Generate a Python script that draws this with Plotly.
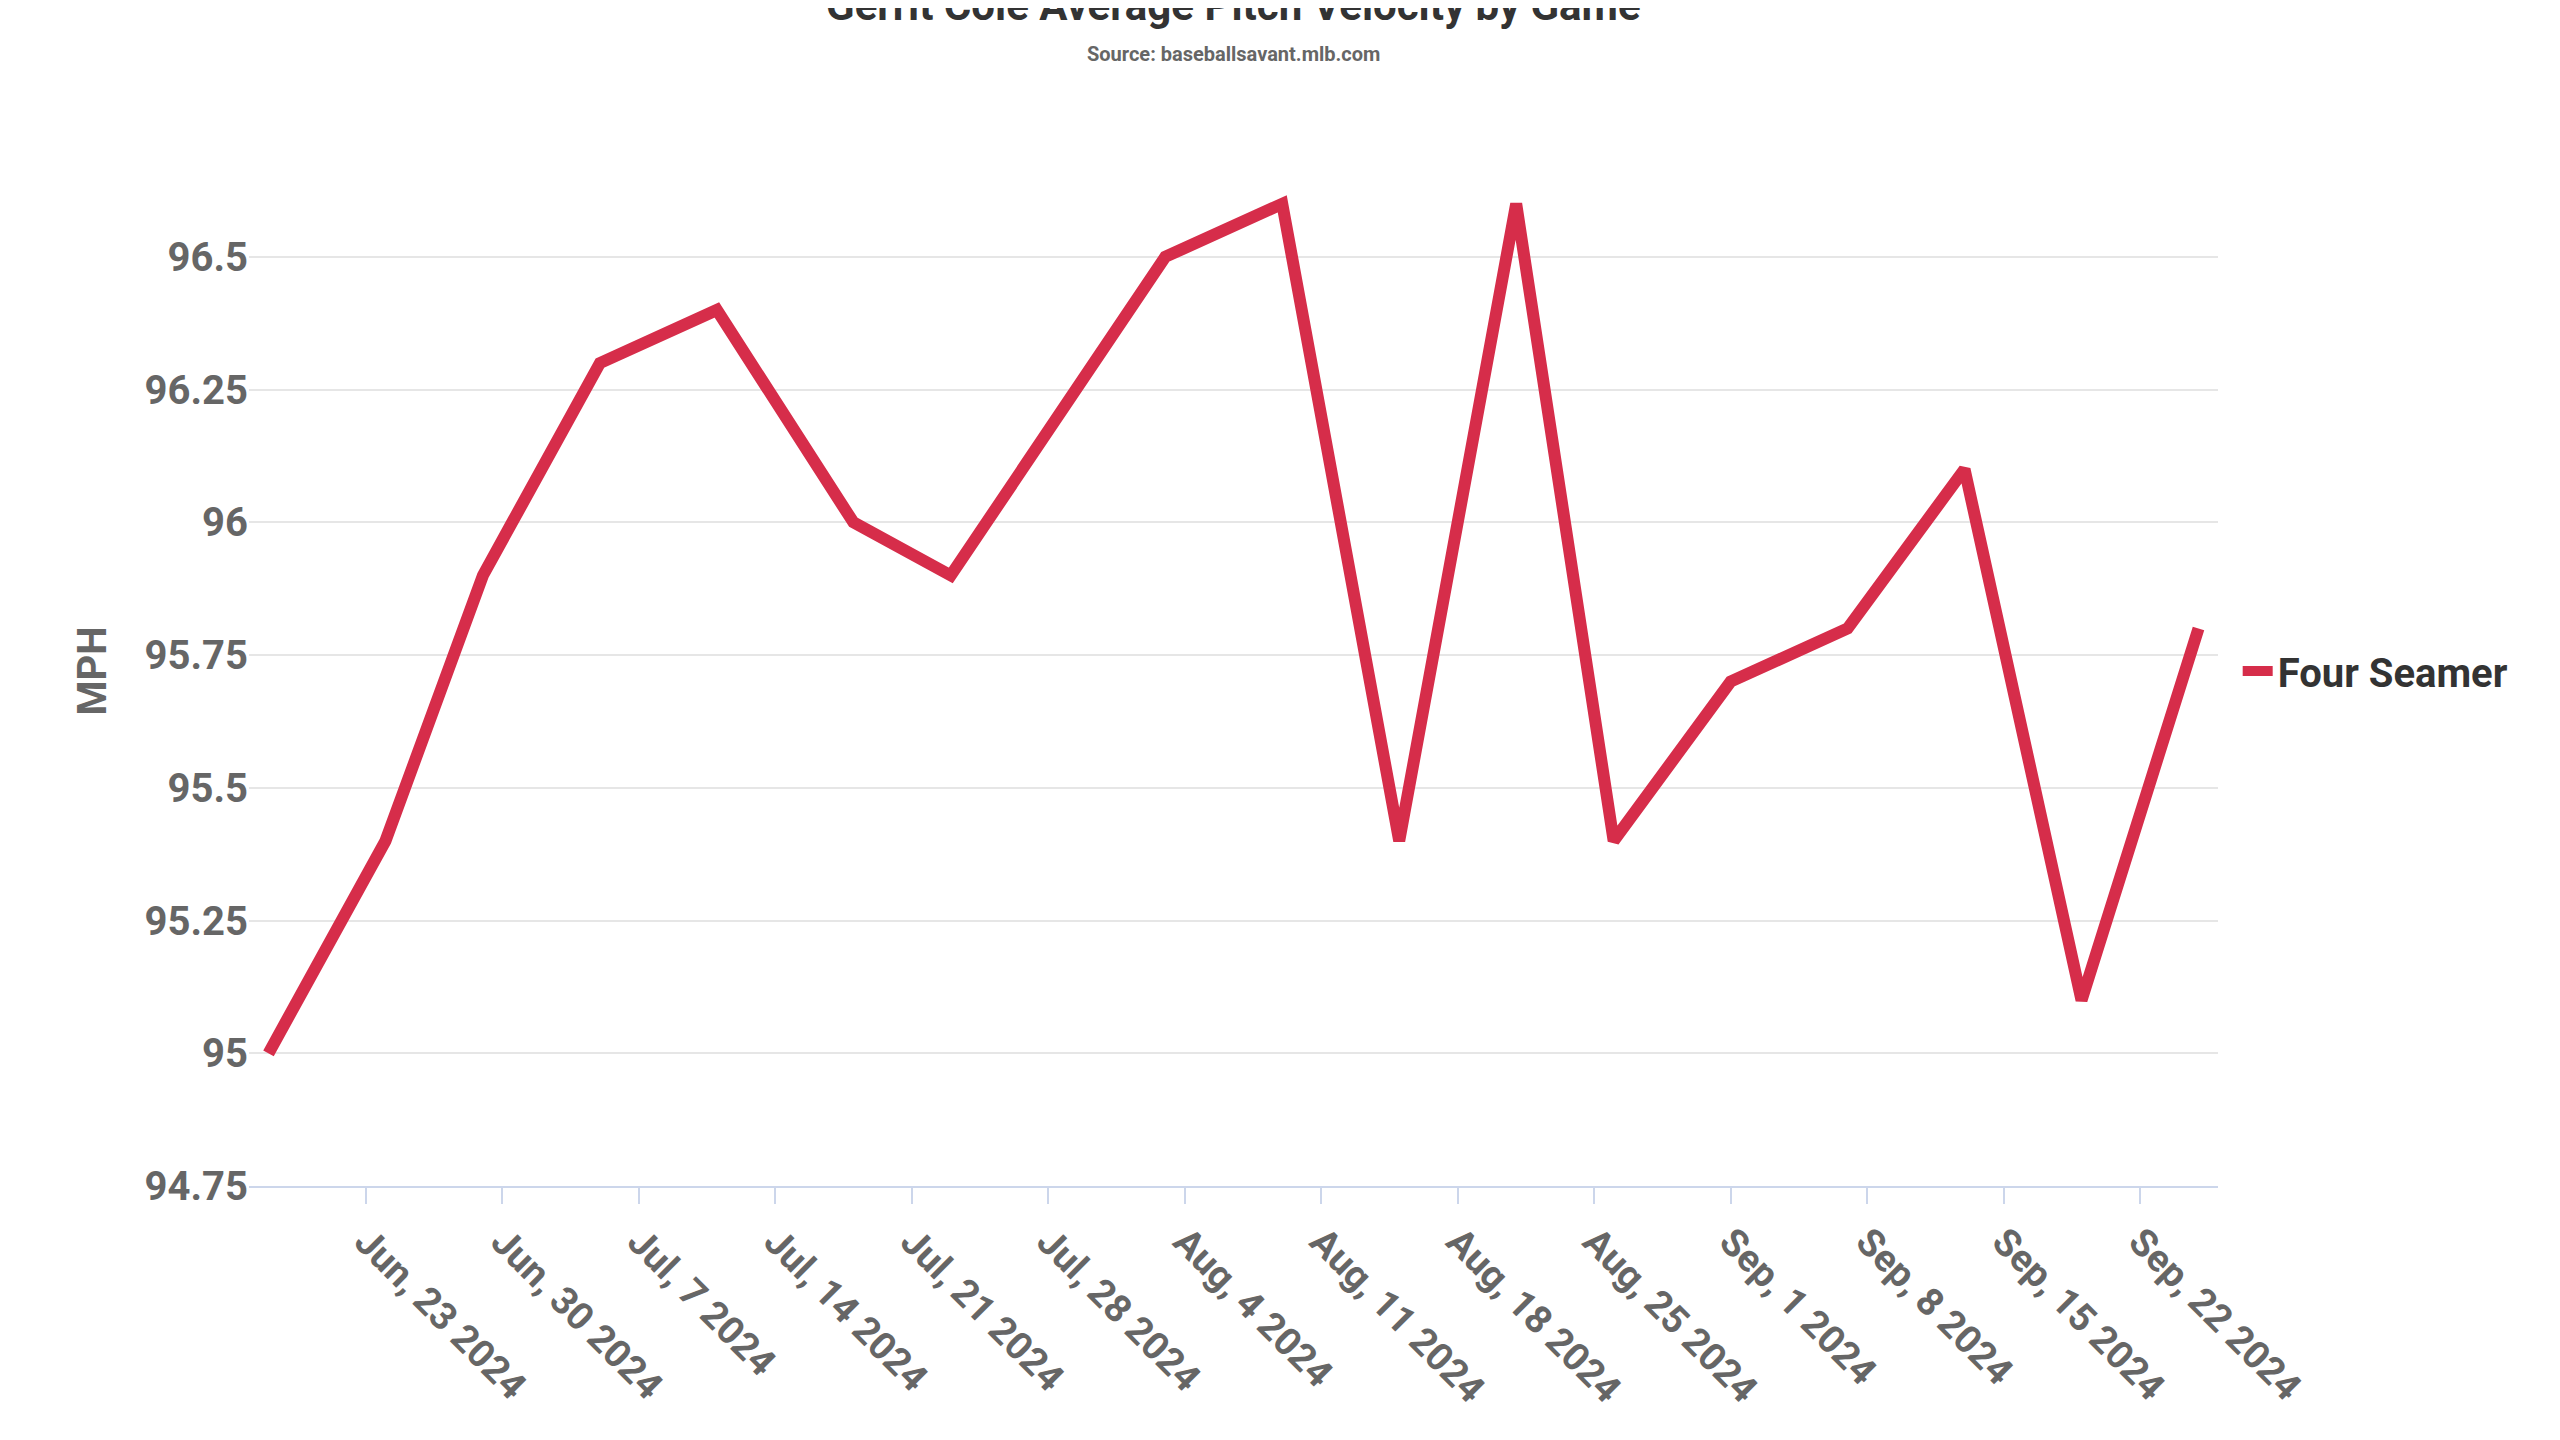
import plotly.graph_objects as go

dates = ["2024-06-18", "2024-06-24", "2024-06-29", "2024-07-05", "2024-07-11",
         "2024-07-18", "2024-07-23", "2024-08-03", "2024-08-09", "2024-08-15",
         "2024-08-21", "2024-08-26", "2024-09-01", "2024-09-07", "2024-09-13",
         "2024-09-19", "2024-09-25"]
velocity = [95.0, 95.4, 95.9, 96.3, 96.4, 96.0, 95.9, 96.5, 96.6, 95.4,
            96.6, 95.4, 95.7, 95.8, 96.1, 95.1, 95.8]
tick_dates = ["2024-06-23", "2024-06-30", "2024-07-07", "2024-07-14", "2024-07-21",
              "2024-07-28", "2024-08-04", "2024-08-11", "2024-08-18", "2024-08-25",
              "2024-09-01", "2024-09-08", "2024-09-15", "2024-09-22"]
tick_labels = ["Jun, 23 2024", "Jun, 30 2024", "Jul, 7 2024", "Jul, 14 2024", "Jul, 21 2024",
               "Jul, 28 2024", "Aug, 4 2024", "Aug, 11 2024", "Aug, 18 2024", "Aug, 25 2024",
               "Sep, 1 2024", "Sep, 8 2024", "Sep, 15 2024", "Sep, 22 2024"]

font = "Roboto"
grey = "#666666"

fig = go.Figure()
fig.add_scatter(x=dates, y=velocity, mode="lines", name="<b>Four Seamer</b>",
                showlegend=True, line=dict(color="#d62d4a", width=12))

# title and subtitle
fig.add_annotation(text="<b>Gerrit Cole Average Pitch Velocity by Game</b>",
                   xref="paper", yref="paper", x=0.5, y=1.12, xanchor="center", yanchor="bottom",
                   showarrow=False, font=dict(size=42, color="#333333", family=font))
fig.add_annotation(text="<b>Source: baseballsavant.mlb.com</b>",
                   xref="paper", yref="paper", x=0.5, y=1.085, xanchor="center", yanchor="bottom",
                   showarrow=False, font=dict(size=20, color=grey, family=font))

fig.update_layout(
    width=2560, height=1440,
    paper_bgcolor="white", plot_bgcolor="white",
    font=dict(family=font, color=grey),
    margin=dict(l=241, r=350, t=148, b=262),
    legend=dict(x=1.01, y=0.5, yanchor="middle", xanchor="left",
                font=dict(size=40, color="#333333", family=font)),
    xaxis=dict(range=["2024-06-17", "2024-09-26"], tickvals=tick_dates, ticktext=tick_labels,
               tickangle=45, tickfont=dict(size=38, color=grey, family=font, weight="bold"),
               showgrid=False, showline=True, linecolor="#ccd6eb", linewidth=2,
               ticks="outside", ticklen=16, tickcolor="#ccd6eb", tickwidth=2),
    yaxis=dict(range=[94.75, 96.69], dtick=0.25, tick0=94.75,
               tickfont=dict(size=40, color=grey, family=font, weight="bold"),
               gridcolor="#e6e6e6", gridwidth=2, zeroline=False,
               title=dict(text="<b>MPH</b>", font=dict(size=40, color=grey), standoff=25)),
)

fig.write_html("out.html")
